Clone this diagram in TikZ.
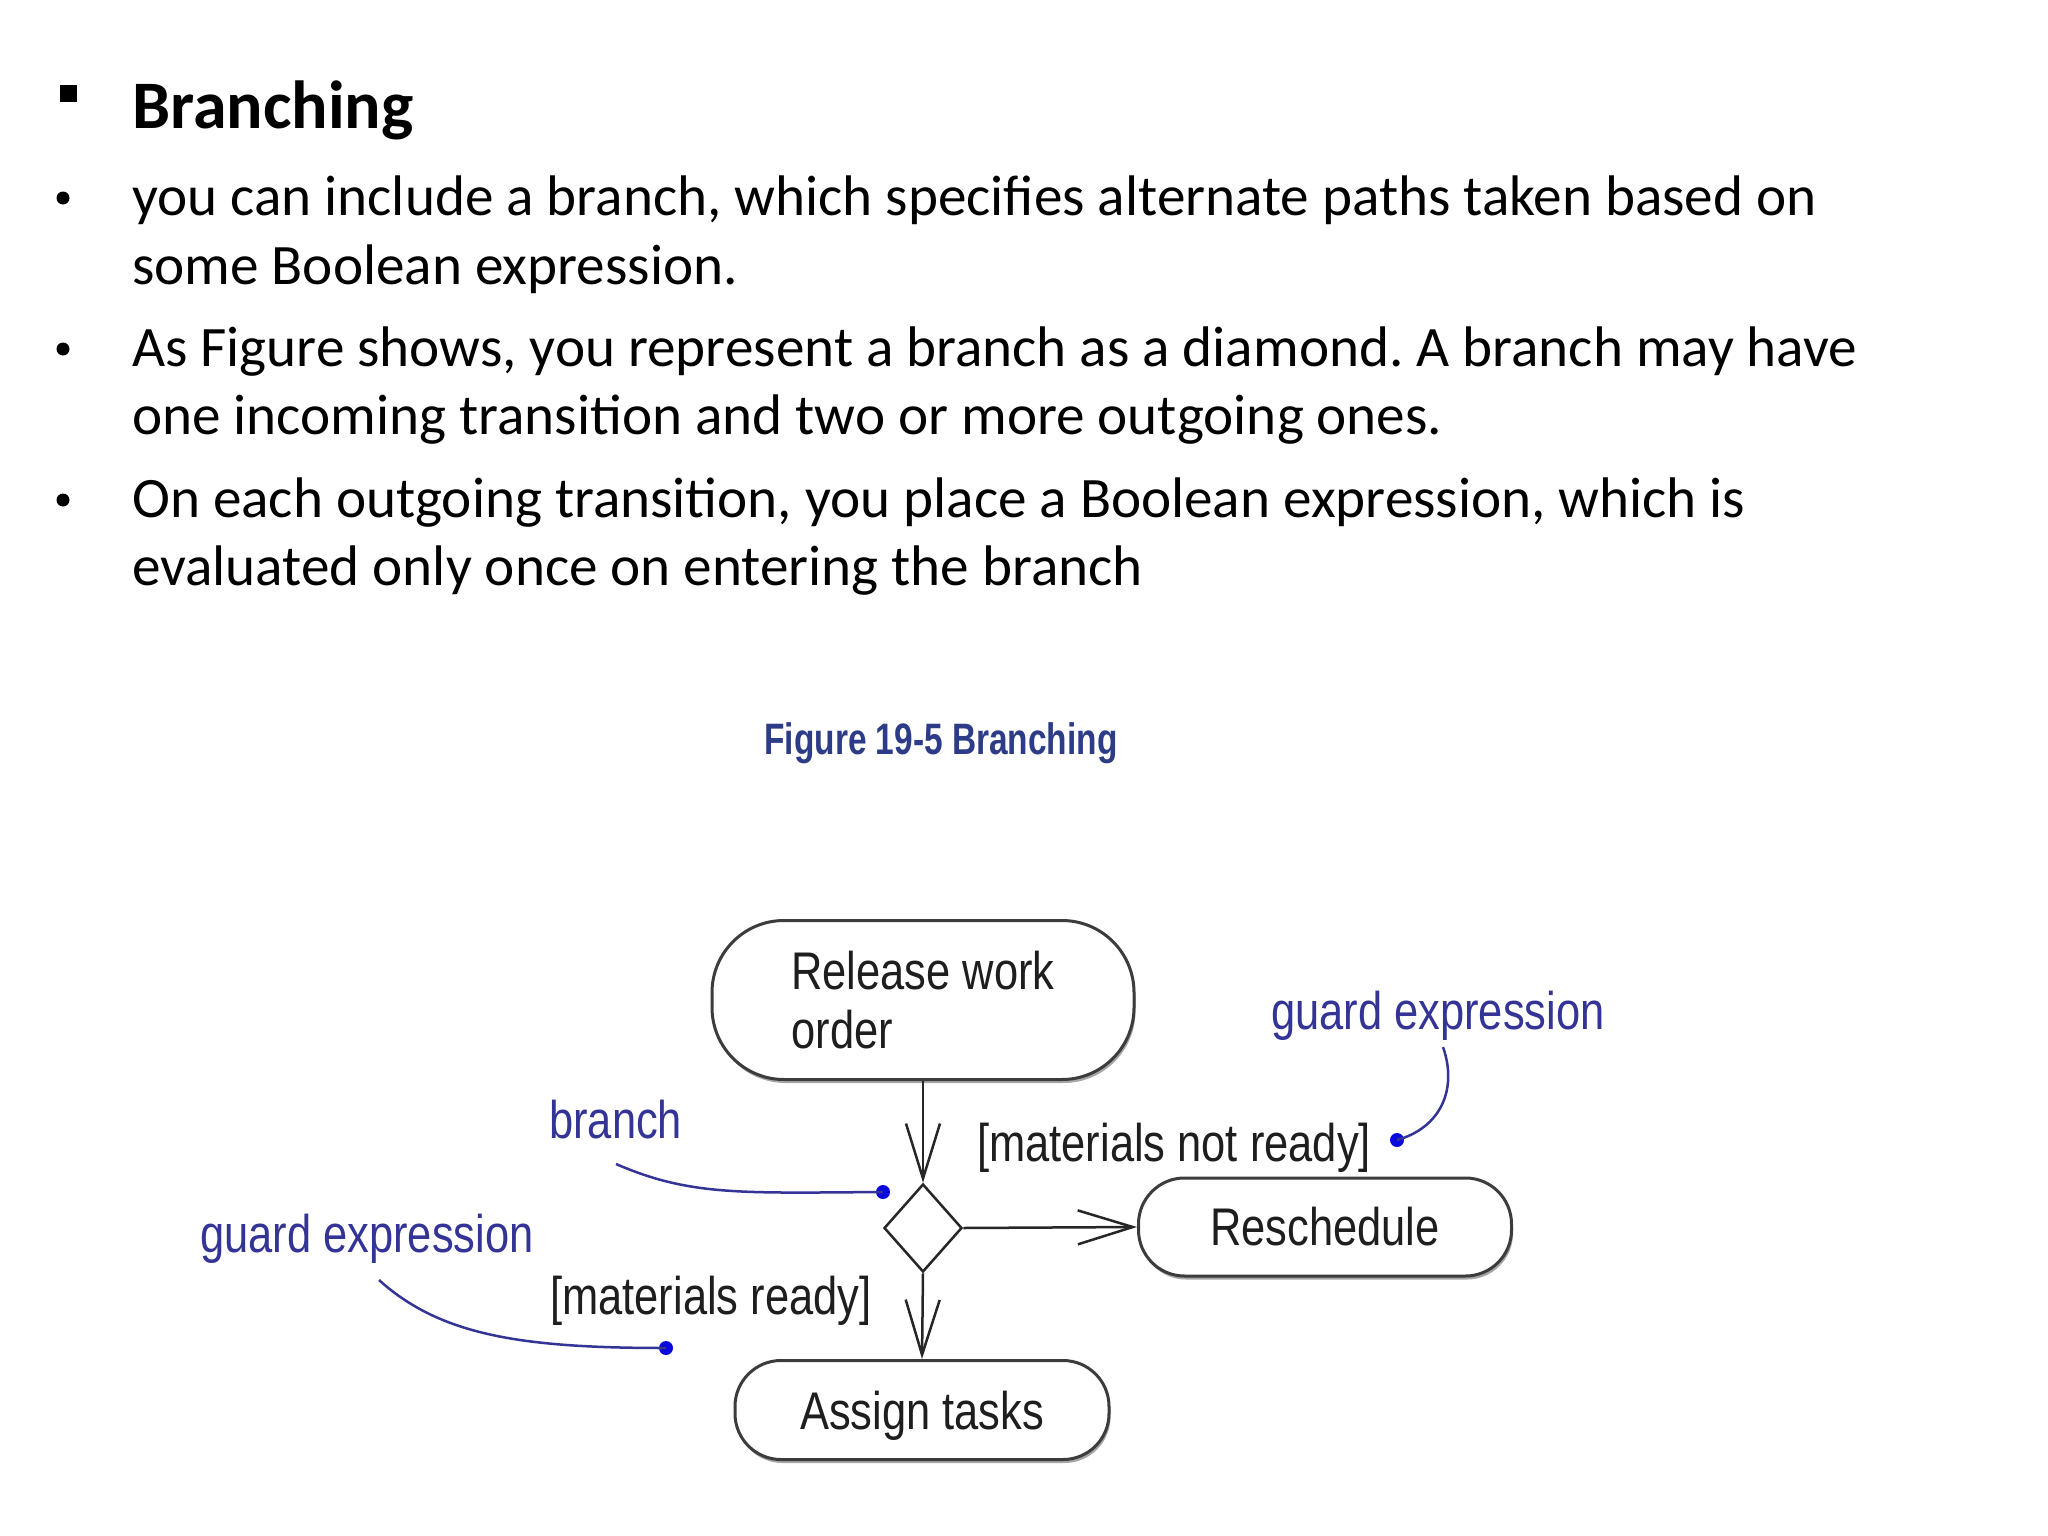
\documentclass[tikz,border=0pt]{standalone}
\usepackage{fontspec}
\setmainfont{Carlito}
\newfontfamily\diagfont[FakeStretch=0.82]{Liberation Sans}
\newfontfamily\capfont[FakeStretch=0.76]{Liberation Sans}
\usetikzlibrary{arrows.meta,shapes.geometric,shadows}
\definecolor{navy}{RGB}{52,52,150}
\definecolor{dotblue}{RGB}{10,10,220}
\definecolor{capblue}{RGB}{45,60,135}
\definecolor{boxline}{RGB}{60,60,60}
\definecolor{inktext}{RGB}{30,30,30}
\frenchspacing
\begin{document}
\begin{tikzpicture}[x=1pt,y=-1pt,
  body/.style={anchor=base west, inner sep=0, font=\fontsize{57.2}{69}\selectfont},
  act/.style={draw=boxline, line width=3pt, fill=white, inner sep=0,
    font=\diagfont\fontsize{53}{59}\selectfont, text=inktext,
    drop shadow={shadow xshift=1.5pt, shadow yshift=-3.5pt, fill=black!35, opacity=1}},
  flow/.style={draw=black!85, line width=2.5pt, -{Straight Barb[length=55pt,width=34pt,line width=2.5pt]}},
  lbl/.style={inner sep=0, font=\diagfont\fontsize{53}{59}\selectfont, text=inktext},
  note/.style={inner sep=0, font=\diagfont\fontsize{53}{59}\selectfont, text=navy},
  callout/.style={draw=navy, line width=2.5pt},
  dot/.style={circle, fill=dotblue, inner sep=0, minimum size=14pt}
]
\useasboundingbox (0,0) rectangle (2048,1536);
\fill[white] (0,0) rectangle (2048,1536);

% title and bullets
\fill[black] (60,85) rectangle (77,102);
\node[anchor=base west, inner sep=0, font=\bfseries\fontsize{68}{80}\selectfont] (title) at (132,129) {Branching};

\fill (63,198) circle (6.5);
\fill (63,349) circle (6.5);
\fill (63,500) circle (6.5);

\node[body] (l1) at (132,215) {you can include a branch, which specifies alternate paths taken based on};
\node[body] (l2) at (132,284) {some Boolean expression.};
\node[body] (l3) at (132,366) {As Figure shows, you represent a branch as a diamond. A branch may have};
\node[body] (l4) at (132,434) {one incoming transition and two or more outgoing ones.};
\node[body] (l5) at (132,517) {On each outgoing transition, you place a Boolean expression, which is};
\node[body] (l6) at (132,585) {evaluated only once on entering the branch};

% caption
\node[inner sep=0, font=\capfont\bfseries\fontsize{44}{50}\selectfont, text=capblue] (cap) at (941,743) {Figure 19-5 Branching};

% activity nodes
\node[act, rounded corners=72pt, minimum width=422pt, minimum height=159pt, align=left] (rel) at (923,1000) {Release work\\order};
\node[act, rounded corners=46pt, minimum width=373pt, minimum height=98pt] (res) at (1325,1227) {Reschedule};
\node[act, rounded corners=46pt, minimum width=374pt, minimum height=99pt, text depth=0pt] (asg) at (922,1410) {Assign tasks};
\node[diamond, draw=black!85, line width=2.5pt, fill=white, inner sep=0, minimum width=78pt, minimum height=88pt] (dia) at (923,1228) {};

% connectors
\draw[flow] (rel.south) -- (dia.north);
\draw[flow] (dia.east) -- (res.west);
\draw[flow] (dia.south) -- (asg.north);

% guard labels
\node[lbl, anchor=west] (notready) at (977,1148) {[materials not ready]};
\node[lbl, anchor=west] (ready) at (550,1301) {[materials ready]};

% notes
\node[note, anchor=west] (brn) at (549,1120) {branch};
\node[note, anchor=west] (g1) at (200,1239) {guard expression};
\node[note, anchor=west] (g2) at (1271,1016) {guard expression};

% callouts
\node[dot] (bd) at (883,1192) {};
\node[dot] (gd1) at (666,1348) {};
\node[dot] (gd2) at (1397,1140) {};
\coordinate (bs) at (616,1164);
\coordinate (gs1) at (379,1280);
\coordinate (gs2) at (1443,1047);
\draw[callout] (bs) .. controls (690,1196) and (740,1193) .. (bd.center);
\draw[callout] (gs1) .. controls (440,1335) and (520,1348) .. (gd1.center);
\draw[callout] (gs2) .. controls (1458,1090) and (1440,1128) .. (gd2.center);
\end{tikzpicture}
\end{document}
